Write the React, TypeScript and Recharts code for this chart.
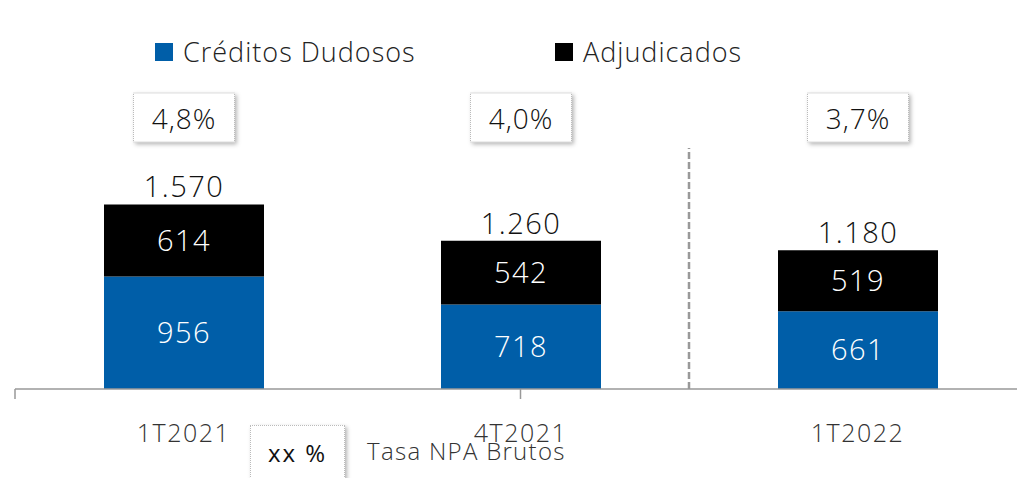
import React from 'react';
import { BarChart, Bar, XAxis, YAxis, LabelList, Legend, ReferenceLine } from 'recharts';

const categories = ['1T2021', '4T2021', '1T2022'];
const dudosos = [956, 718, 661];
const adjudicados = [614, 542, 519];
const rates = [4.8, 4.0, 3.7];
const seriesNames = ['Créditos Dudosos', 'Adjudicados'];
const rateLegendBox = 'xx %';
const rateLegendLabel = 'Tasa NPA Brutos';
const boundaryTicks = [0, 1, 2, 3];

const BLUE = '#005EA8';
const FONT = '"Open Sans", Lato, sans-serif';

const data = categories.map((c, i) => ({
  cat: c,
  dudosos: dudosos[i],
  adjudicados: adjudicados[i],
  total: dudosos[i] + adjudicados[i],
  rate: rates[i],
}));

const fmtThousands = (v: number) => String(v).replace(/\B(?=(\d{3})+(?!\d))/g, '.');
const fmtRate = (v: number) => v.toFixed(1).replace('.', ',') + '%';

const RateBox = (props: any) => {
  const { x, width, value } = props;
  const cx = x + width / 2;
  const w = 101;
  const h = 49;
  return (
    <g>
      <rect x={cx - w / 2} y={93} width={w} height={h} fill="#fff" stroke="#bbb" strokeWidth={1} strokeDasharray="1 1" filter="url(#boxShadow)" />
      <text x={cx} y={118} textAnchor="middle" dominantBaseline="central" fontSize={28} letterSpacing={1} fontFamily={FONT} fontWeight={300} fill="#111">
        {fmtRate(value)}
      </text>
    </g>
  );
};

const TotalLabel = (props: any) => {
  const { x, y, width, value } = props;
  return (
    <text x={x + width / 2} y={y - 7} textAnchor="middle" fontSize={29} letterSpacing={1.5} fontFamily={FONT} fontWeight={300} fill="#111">
      {fmtThousands(value)}
    </text>
  );
};

const NoTick = () => <g />;

const LegendContent = (props: any) => {
  const payload = props.payload || [];
  const xs = [155, 555];
  const ordered = seriesNames.map((n) => payload.find((p: any) => p.value === n)).filter(Boolean);
  return (
    <div style={{ position: 'relative', width: 1017, height: 478, fontFamily: FONT }}>
      {ordered.map((p: any, i: number) => (
        <div key={i} style={{ position: 'absolute', left: xs[i], top: 43, display: 'flex', alignItems: 'center', height: 18 }}>
          <div style={{ width: 18, height: 18, background: p.color }} />
          <span style={{ marginLeft: 10, fontSize: 27, letterSpacing: 1, fontWeight: 300, color: '#222', lineHeight: '18px', whiteSpace: 'nowrap' }}>{p.value}</span>
        </div>
      ))}
      <div style={{ position: 'absolute', left: 250, top: 425, width: 95, height: 60, background: '#fff', border: '1px dotted #bbb', boxShadow: '2px 2px 4px rgba(0,0,0,0.3)', boxSizing: 'border-box', display: 'flex', justifyContent: 'center', paddingTop: 10, fontSize: 24, letterSpacing: 2, color: '#111' }}>
        {rateLegendBox}
      </div>
      <div style={{ position: 'absolute', left: 367, top: 437, fontSize: 24, letterSpacing: 1.3, fontWeight: 300, color: '#333', whiteSpace: 'nowrap', lineHeight: '28px' }}>
        {rateLegendLabel}
      </div>
    </div>
  );
};

export default function App() {
  return (
    <div style={{ position: 'absolute', left: 0, top: 0, width: 1017, height: 478, overflow: 'hidden', background: '#fff' }}>
      <BarChart width={1030} height={478} data={data} margin={{ top: 148, right: 4, left: 15, bottom: 39 }} barSize={160}>
        <defs>
          <filter id="boxShadow" x="-20%" y="-20%" width="150%" height="150%">
            <feDropShadow dx="2" dy="2" stdDeviation="2" floodColor="#000" floodOpacity="0.3" />
          </filter>
        </defs>
        <XAxis xAxisId="b" dataKey="cat" axisLine={false} tickLine={false} height={40} tickMargin={19} tick={{ fontSize: 25, letterSpacing: 1.5, fill: '#333', fontFamily: FONT, fontWeight: 300 }} />
        <XAxis xAxisId="a" type="number" domain={[0, 3]} ticks={boundaryTicks} tick={<NoTick />} tickSize={10} height={10} stroke="#999" strokeWidth={1.5} allowDataOverflow />
        <YAxis hide domain={[0, 2050]} />
        <Legend layout="vertical" verticalAlign="middle" align="center" content={<LegendContent />} wrapperStyle={{ top: 0, left: 0, width: 1017, height: 478 }} />
        <ReferenceLine xAxisId="b" x={categories[2]} position="start" stroke="#999" strokeWidth={2.5} strokeDasharray="7 3" ifOverflow="visible" />
        <Bar xAxisId="b" dataKey="dudosos" name={seriesNames[0]} stackId="a" fill={BLUE} isAnimationActive={false}>
          <LabelList dataKey="dudosos" position="center" fill="#fff" fontSize={29} letterSpacing={1.5} fontFamily={FONT} fontWeight={300} />
        </Bar>
        <Bar xAxisId="b" dataKey="adjudicados" name={seriesNames[1]} stackId="a" fill="#000" isAnimationActive={false}>
          <LabelList dataKey="adjudicados" position="center" fill="#fff" fontSize={29} letterSpacing={1.5} fontFamily={FONT} fontWeight={300} />
          <LabelList dataKey="total" content={<TotalLabel />} />
          <LabelList dataKey="rate" content={<RateBox />} />
        </Bar>
      </BarChart>
    </div>
  );
}
